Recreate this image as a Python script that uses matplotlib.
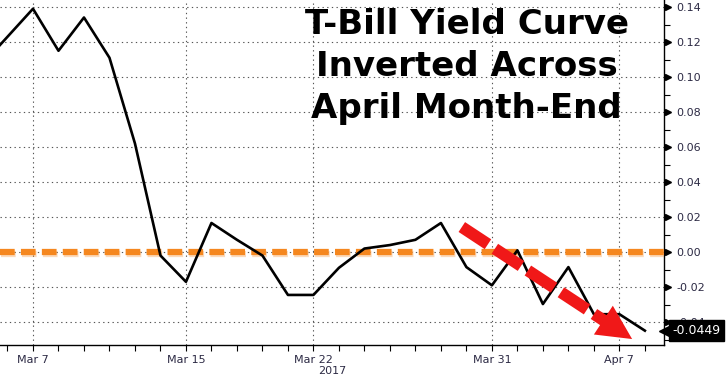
import numpy as np
import matplotlib
matplotlib.use("Agg")
import matplotlib.pyplot as plt
import matplotlib.patheffects as pe
from matplotlib.transforms import blended_transform_factory, ScaledTranslation

# business days, Mar 3 .. Apr 10 2017
dates = ["Mar 3", "Mar 6", "Mar 7", "Mar 8", "Mar 9", "Mar 10", "Mar 13", "Mar 14",
         "Mar 15", "Mar 16", "Mar 17", "Mar 20", "Mar 21", "Mar 22", "Mar 23", "Mar 24",
         "Mar 27", "Mar 28", "Mar 29", "Mar 30", "Mar 31", "Apr 3", "Apr 4", "Apr 5",
         "Apr 6", "Apr 7", "Apr 10"]
spread = [0.107, 0.123, 0.139, 0.115, 0.134, 0.111, 0.062, -0.002,
          -0.017, 0.0166, 0.007, -0.002, -0.0245, -0.0245, -0.009, 0.002,
          0.004, 0.007, 0.0166, -0.0086, -0.019, 0.001, -0.0297, -0.0086,
          -0.0355, -0.0355, -0.0449]
tick_labels = ["Mar 7", "Mar 15", "Mar 22", "Mar 31", "Apr 7"]
last_value = spread[-1]

x = np.arange(len(dates))
red = "#f01818"
orange = "#f5871f"
txtcol = "#2c2a44"

fig = plt.figure(figsize=(7.27, 3.81), dpi=100)
ax = fig.add_axes([0, 36 / 381, 664 / 727, 345 / 381])

ax.plot(x, spread, color="black", lw=1.9, zorder=4)

# zero line
ax.axhline(0, color=orange, lw=4.5, linestyle=(0, (2.35, 1.0)), zorder=3,
           path_effects=[pe.SimpleLineShadow(offset=(0.5, -1.5), shadow_color=orange, alpha=0.3),
                         pe.Normal()])

# red dashed arrow
arr_start = (18.82, 0.0143)
arr_base = (24.4, -0.0392)
arr_tip = (25.5, -0.0497)
ax.plot([arr_start[0], arr_base[0]], [arr_start[1], arr_base[1]], color=red, lw=8.5,
        linestyle=(0, (2.65, 0.7)), dash_capstyle="butt", zorder=5)
ax.annotate("", xy=arr_tip, xytext=arr_start,
            arrowprops=dict(arrowstyle="-|>", mutation_scale=62, color=red, lw=0,
                            shrinkA=0, shrinkB=0), zorder=5)

# axes styling
for s in ["left", "top"]:
    ax.spines[s].set_visible(False)
ax.spines["right"].set_linewidth(1)
ax.spines["bottom"].set_linewidth(1)

ax.set_xticks([dates.index(d) for d in tick_labels])
ax.set_xticklabels(tick_labels)
ax.set_xticks(x, minor=True)
ax.tick_params(axis="x", which="both", direction="out", length=4, width=0.8,
               labelsize=8, labelcolor=txtcol, pad=3)
ax.set_xlabel("2017", fontsize=8, color=txtcol, labelpad=1)

ax.yaxis.tick_right()
yt = np.arange(-0.04, 0.141, 0.02)
ax.set_yticks(yt)
ax.set_yticklabels([f"{v:.2f}" for v in yt])
ax.set_yticks(np.arange(-0.05, 0.141, 0.01), minor=True)
ax.tick_params(axis="y", which="major", length=0, labelsize=8, labelcolor=txtcol, pad=9)
ax.tick_params(axis="y", which="minor", direction="out", length=4, width=0.8)

# limits after ticks so the tick lists don't widen the view
ax.set_xlim(0.706, 26.75)
ax.set_ylim(-0.0531, 0.144)

# triangle markers on major y ticks
tr = blended_transform_factory(ax.transAxes, ax.transData) + \
    ScaledTranslation(3 / 72, 0, fig.dpi_scale_trans)
ax.plot(np.ones(len(yt)), yt, marker=">", ls="none", ms=5, color="black",
        transform=tr, clip_on=False)

ax.grid(True, which="major", color="#555555", lw=0.8, linestyle=(0, (1.2, 3)))
ax.set_axisbelow(True)

# last value box
lv_tr = blended_transform_factory(ax.transAxes, ax.transData)
ax.plot([1], [last_value], marker="<", ms=11, color="black", ls="none",
        transform=lv_tr + ScaledTranslation(2 / 72, 0, fig.dpi_scale_trans),
        clip_on=False, zorder=9)
ax.annotate(f"{last_value:.4f}", xy=(1, last_value), xycoords=lv_tr,
            xytext=(6, 0), textcoords="offset points", ha="left", va="center",
            fontsize=9, color="white", annotation_clip=False, zorder=10,
            bbox=dict(boxstyle="square,pad=0.3", fc="black", ec="black"))

# title block
title_lines = ["T-Bill Yield Curve", "Inverted Across", "April Month-End"]
for line, yy in zip(title_lines, [0.901, 0.780, 0.658]):
    ax.text(0.703, yy, line, transform=ax.transAxes, ha="center", va="baseline",
            fontsize=24.5, fontweight="bold", color="black", zorder=6)

fig.savefig("out.png", dpi=100)
